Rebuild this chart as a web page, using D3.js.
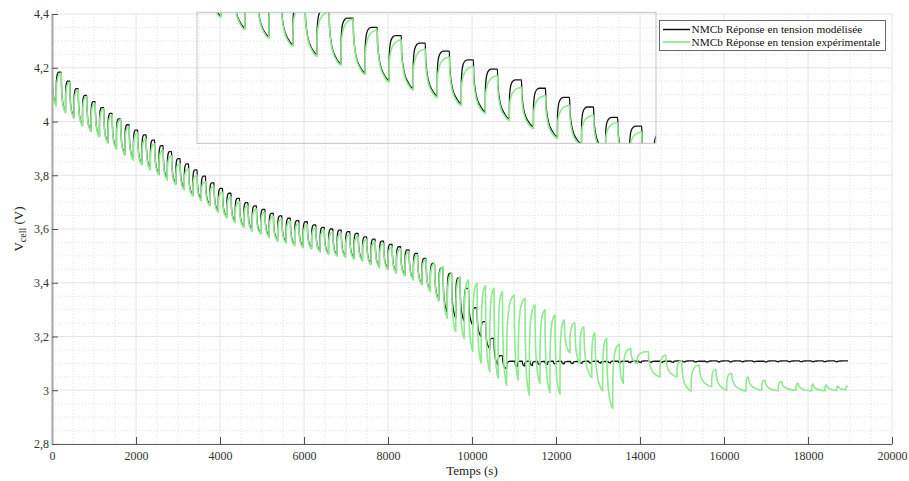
<!DOCTYPE html>
<html><head><meta charset="utf-8">
<script src="https://cdn.jsdelivr.net/npm/d3@7/dist/d3.min.js"></script>
<style>
body{margin:0;background:#fff;}
text{font-family:"Liberation Serif","Times New Roman",serif;}
</style>
</head><body>
<svg id="c" width="909" height="481"></svg>
<script>
// ---------------- DATA ----------------
const xTickValues = [0,2000,4000,6000,8000,10000,12000,14000,16000,18000,20000];
const xTickLabels = ["0","2000","4000","6000","8000","10000","12000","14000","16000","18000","20000"];
const yTickValues = [2.8,3.0,3.2,3.4,3.6,3.8,4.0,4.2,4.4];
const yTickLabels = ["2,8","3","3,2","3,4","3,6","3,8","4","4,2","4,4"];
const seriesNames = ["NMCb Réponse en tension modélisée","NMCb Réponse en tension expérimentale"];

// start of each discharge pulse (s), regular phase
const cycleStart = [0,222,424,626,828,1030,1232,1434,1636,1838,2040,2242,2444,2646,2848,3050,3252,3454,3656,3858,
  4060,4262,4464,4666,4868,5070,5272,5474,5676,5878,6080,6282,6484,6686,6888,7090,7292,7494,7696,7898,
  8100,8302,8504,8706,8908,9110,9312,9514,9716,9918,10120,10322,10524,10726];
const pulseDuration = 100; // s

// model (black): voltage just before each pulse / at end of each pulse
const modelPeak = [4.204,4.184,4.150,4.122,4.097,4.074,4.052,4.030,4.010,3.988,3.968,3.950,3.931,3.910,3.888,3.862,3.842,3.820,3.797,3.772,
  3.751,3.733,3.714,3.698,3.686,3.673,3.658,3.649,3.640,3.631,3.627,3.615,3.606,3.600,3.596,3.590,3.584,3.571,3.562,3.555,
  3.543,3.534,3.522,3.509,3.491,3.472,3.454,3.435,3.418,3.379,3.307,3.255,3.193,3.129];
const modelTrough = [4.062,4.037,4.016,3.987,3.966,3.947,3.923,3.901,3.879,3.861,3.842,3.824,3.805,3.786,3.769,3.750,3.726,3.709,3.691,3.666,
  3.645,3.627,3.610,3.596,3.585,3.573,3.559,3.551,3.542,3.534,3.530,3.518,3.509,3.503,3.498,3.492,3.485,3.471,3.461,3.453,
  3.440,3.429,3.414,3.396,3.371,3.338,3.290,3.270,3.258,3.243,3.199,3.156,3.094,3.080];
// model after the knee: pulse times, level before pulse, level at end of pulse
const modelLateT = [11024,11198,11381,11564,11738,11936,12136,12345,12560,12780,13010,13240,13480,13720,13970,14220,14480,14740,
  15010,15280,15560,15840,16120,16400,16680,16960,17240,17520,17800,18080,18360,18640];
const modelLateLevel = [3.108,3.108,3.108,3.107,3.107,3.108,3.108,3.107,3.107,3.108,3.108,3.107,3.108,3.108,3.108,3.109,3.108,3.108,
  3.109,3.109,3.108,3.109,3.109,3.109,3.109,3.108,3.109,3.109,3.109,3.109,3.109,3.109];
const modelLateDip = [3.088,3.090,3.092,3.094,3.096,3.097,3.098,3.099,3.100,3.101,3.101,3.102,3.102,3.103,3.103,3.104,3.104,3.104,
  3.105,3.105,3.105,3.105,3.105,3.106,3.106,3.105,3.106,3.106,3.106,3.106,3.106,3.106];
const modelEnd = [18952,3.109];

// experiment (green): voltage just before each pulse / at end of each pulse
const expPeak = [4.210,4.180,4.146,4.118,4.093,4.069,4.047,4.025,4.008,3.982,3.958,3.936,3.917,3.894,3.872,3.844,3.824,3.801,3.777,3.760,
  3.737,3.720,3.702,3.687,3.675,3.662,3.648,3.638,3.630,3.621,3.617,3.605,3.596,3.590,3.586,3.580,3.574,3.562,3.553,3.546,
  3.535,3.527,3.516,3.504,3.488,3.472,3.460,3.434,3.421,3.410,3.398,3.389,3.379,3.367];
const expTrough = [4.058,4.033,4.012,3.983,3.962,3.943,3.919,3.897,3.875,3.857,3.838,3.820,3.801,3.782,3.765,3.746,3.722,3.705,3.687,3.662,
  3.641,3.623,3.606,3.592,3.581,3.569,3.555,3.547,3.538,3.530,3.526,3.514,3.505,3.499,3.494,3.488,3.481,3.467,3.457,3.449,
  3.436,3.425,3.410,3.392,3.367,3.332,3.268,3.218,3.193,3.144,3.100,3.069,3.044,3.019];
// experiment after the knee: (peak time, peak V) then (trough time, trough V)
const expLatePeakT = [11007,11262,11500,11738,11976,12198,12452,12667,12929,13207,13507,13779,14198,14615,14993,15412,15810,16183,16579,16976,17374,17769,18126,18445,18722];
const expLatePeakV = [3.354,3.342,3.317,3.299,3.280,3.262,3.251,3.236,3.214,3.193,3.172,3.156,3.144,3.131,3.110,3.094,3.078,3.063,3.050,3.038,3.032,3.026,3.023,3.020,3.016];
const expLateTroughT = [11102,11364,11619,11857,12095,12333,12571,12850,13111,13350,13603,13936,14476,14880,15220,15707,16064,16524,16897,17294,17714,18088,18405,18683,18900];
const expLateTroughV = [3.038,2.982,3.025,2.992,2.985,3.140,3.100,3.048,2.998,2.933,3.026,3.100,3.050,3.050,2.997,3.013,3.001,2.997,3.001,2.998,3.000,2.997,2.998,3.000,3.002];
const expEnd = [18952,3.016];

// ---------------- BUILD ----------------
const svg = d3.select("#c");
const x = d3.scaleLinear().domain([0,20000]).range([52,892]);
const y = d3.scaleLinear().domain([2.8,4.4]).range([444,14]);

function eventsModel(){
  const ev=[];
  cycleStart.forEach((t,k)=>{ ev.push({t:t,v:modelPeak[k]}); ev.push({t:t+pulseDuration,v:modelTrough[k]}); });
  modelLateT.forEach((t,j)=>{ ev.push({t:t,v:modelLateLevel[j]}); ev.push({t:t+60,v:modelLateDip[j]}); });
  ev.push({t:modelEnd[0],v:modelEnd[1]});
  return ev;
}
function eventsExp(){
  const ev=[];
  cycleStart.forEach((t,k)=>{ ev.push({t:t,v:expPeak[k]}); ev.push({t:t+pulseDuration,v:expTrough[k]}); });
  expLatePeakT.forEach((t,j)=>{ ev.push({t:t,v:expLatePeakV[j]}); ev.push({t:expLateTroughT[j],v:expLateTroughV[j]}); });
  ev.push({t:expEnd[0],v:expEnd[1]});
  return ev;
}
// shape of a relaxation (rise) and a pulse (fall) between two read extrema
const riseModel = [[0.01,0.55],[0.12,0.86],[0.3,0.97],[0.5,1],[1,1]];
const riseExp   = [[0.01,0.45],[0.15,0.74],[0.45,0.92],[0.8,0.985],[1,1]];
const fallShape = [[0.03,0.3],[0.25,0.7],[0.6,0.9],[1,1]];
function buildPts(ev, rise){
  const pts=[[ev[0].t,ev[0].v]];
  for(let i=1;i<ev.length;i++){
    const a=ev[i-1], b=ev[i], dt=b.t-a.t, dv=b.v-a.v;
    const sh = dv>=0 ? rise : fallShape;
    sh.forEach(([ft,fv])=>pts.push([a.t+ft*dt, a.v+fv*dv]));
  }
  return pts;
}
const modelPts = buildPts(eventsModel(), riseModel);
const expPts = buildPts(eventsExp(), riseExp);

const BLACK="#141414", GREEN="#8fea8f";

// grid
const gGrid = svg.append("g");
const xMinor = d3.range(0,20001,500), yMinor = d3.range(0,33).map(i=>2.8+i*0.05);
gGrid.selectAll(".xm").data(xMinor.filter(v=>v%2000!==0)).join("line")
  .attr("x1",d=>x(d)).attr("x2",d=>x(d)).attr("y1",14).attr("y2",444)
  .attr("stroke","#dcdcdc").attr("stroke-width",0.8).attr("stroke-dasharray","1,2");
gGrid.selectAll(".ym").data(yMinor.filter((v,i)=>i%4!==0)).join("line")
  .attr("x1",52).attr("x2",892).attr("y1",d=>y(d)).attr("y2",d=>y(d))
  .attr("stroke","#dcdcdc").attr("stroke-width",0.8).attr("stroke-dasharray","1,2");
gGrid.selectAll(".xM").data(xTickValues).join("line")
  .attr("x1",d=>x(d)).attr("x2",d=>x(d)).attr("y1",14).attr("y2",444)
  .attr("stroke","#e4e4e4").attr("stroke-width",1);
gGrid.selectAll(".yM").data(yTickValues).join("line")
  .attr("x1",52).attr("x2",892).attr("y1",d=>y(d)).attr("y2",d=>y(d))
  .attr("stroke","#e4e4e4").attr("stroke-width",1);

// clip
svg.append("clipPath").attr("id","clipMain").append("rect").attr("x",52).attr("y",14).attr("width",840).attr("height",430);
const line = d3.line().x(d=>x(d[0])).y(d=>y(d[1])).curve(d3.curveMonotoneX);
const gMain = svg.append("g").attr("clip-path","url(#clipMain)");
gMain.append("path").attr("d",line(modelPts)).attr("fill","none").attr("stroke",BLACK).attr("stroke-width",1.3);
gMain.append("path").attr("d",line(expPts)).attr("fill","none").attr("stroke",GREEN).attr("stroke-width",1.6);

// axes
const xAxis = d3.axisBottom(x).tickValues(xTickValues).tickFormat((d,i)=>xTickLabels[i]).tickSizeInner(-7).tickSizeOuter(0).tickPadding(7);
const gx = svg.append("g").attr("transform","translate(0,444)").call(xAxis);
gx.select(".domain").attr("stroke","#606060").attr("stroke-width",1);
gx.selectAll(".tick line").attr("stroke","#505050");
gx.selectAll("text").attr("font-size",12).attr("fill","#333").attr("font-family","Liberation Serif");
const yAxis = d3.axisLeft(y).tickValues(yTickValues).tickFormat((d,i)=>yTickLabels[i]).tickSizeInner(-6).tickSizeOuter(0).tickPadding(3);
const gy = svg.append("g").attr("transform","translate(52,0)").call(yAxis);
gy.select(".domain").attr("stroke","#a8a8a8").attr("stroke-width",2);
gy.selectAll(".tick line").attr("stroke","#505050");
gy.selectAll("text").attr("font-size",12).attr("fill","#333").attr("font-family","Liberation Serif");

// axis labels
svg.append("text").attr("x",472).attr("y",475).attr("text-anchor","middle").attr("font-size",13).attr("fill","#222").text("Temps (s)");
const yl = svg.append("text").attr("transform","translate(23,229) rotate(-90)").attr("text-anchor","middle").attr("font-size",13).attr("fill","#222");
yl.append("tspan").text("V");
yl.append("tspan").attr("font-size",10).attr("dy",3).text("cell");
yl.append("tspan").attr("dy",-3).text(" (V)");

// inset (zoom on the early pulses)
const ix = d3.scaleLinear().domain([324,4180]).range([197,656]);
const iy = d3.scaleLinear().domain([3.710,4.024]).range([143.3,12.3]);
svg.append("clipPath").attr("id","clipIn").append("rect").attr("x",197).attr("y",12.3).attr("width",459).attr("height",131);
const iline = d3.line().x(d=>ix(d[0])).y(d=>iy(d[1])).curve(d3.curveMonotoneX);
const gIn = svg.append("g").attr("clip-path","url(#clipIn)");
gIn.append("path").attr("d",iline(modelPts.filter(p=>p[0]<4600))).attr("fill","none").attr("stroke",BLACK).attr("stroke-width",1.3);
gIn.append("path").attr("d",iline(expPts.filter(p=>p[0]<4600))).attr("fill","none").attr("stroke",GREEN).attr("stroke-width",1.6);
svg.append("rect").attr("x",197).attr("y",12.3).attr("width",459).attr("height",131)
  .attr("fill","none").attr("stroke","#c4c4c4").attr("stroke-width",1);

// legend
const lg = svg.append("g");
lg.append("rect").attr("x",659.5).attr("y",20.5).attr("width",226).attr("height",30)
  .attr("fill","#fff").attr("stroke","#444").attr("stroke-width",0.8);
[[BLACK,29.5],[GREEN,42]].forEach(([c,yy],i)=>{
  lg.append("line").attr("x1",663).attr("x2",690).attr("y1",yy).attr("y2",yy).attr("stroke",c).attr("stroke-width",i?1.8:1.5);
  lg.append("text").attr("x",691.5).attr("y",yy+3.5).attr("font-size",11.3).attr("fill","#111").text(seriesNames[i]);
});
</script>
</body></html>
